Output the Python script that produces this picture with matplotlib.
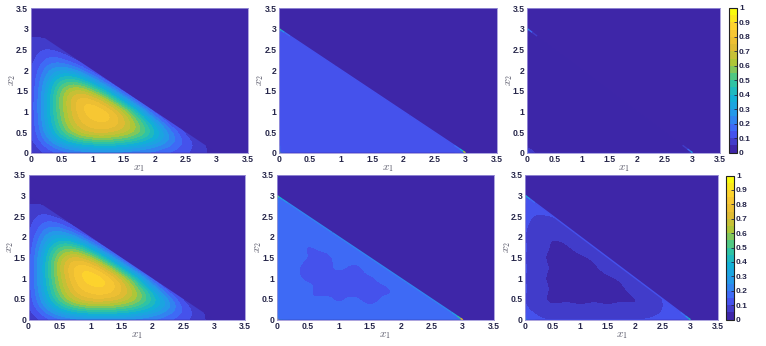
import numpy as np
import matplotlib
matplotlib.use("Agg")
import matplotlib.pyplot as plt
from matplotlib.colors import LinearSegmentedColormap, Normalize
from matplotlib.collections import LineCollection
from matplotlib.patches import Polygon

plt.rcParams['font.family'] = ['Liberation Sans', 'DejaVu Sans']
plt.rcParams['mathtext.fontset'] = 'cm'

# grid nodes of the tables (x1 across, x2 up), simplex size
grid = [0, .25, .5, .75, 1, 1.25, 1.5, 1.75, 2, 2.25, 2.5, 2.75, 3]
total = 3.0
ticks = [0, .5, 1, 1.5, 2, 2.5, 3, 3.5]
cbar_ticks = [0, .1, .2, .3, .4, .5, .6, .7, .8, .9, 1]

top_left = [
    [.04, .10, .15, .18, .20, .21, .20, .18, .16, .13, .10, .07, .02],
    [.07, .20, .35, .44, .48, .49, .46, .41, .33, .24, .14, .07],
    [.08, .29, .51, .67, .75, .74, .69, .59, .43, .24, .08],
    [.08, .33, .57, .75, .80, .82, .74, .56, .32, .08],
    [.08, .35, .59, .78, .85, .84, .68, .40, .08],
    [.08, .35, .61, .80, .82, .66, .38, .08],
    [.08, .33, .59, .72, .60, .36, .08],
    [.08, .29, .49, .48, .31, .08],
    [.08, .24, .31, .25, .08],
    [.07, .17, .17, .07],
    [.07, .11, .07],
    [.06, .06],
    [.02],
]
top_mid = [
    [.12, .11, .11, .11, .11, .11, .11, .11, .11, .11, .11, .12, .13],
    [.12, .11, .11, .11, .11, .10, .11, .11, .11, .11, .11, .11],
    [.12, .11, .11, .11, .11, .11, .11, .11, .11, .11, .11],
    [.12, .11, .11, .11, .11, .11, .11, .11, .11, .11],
    [.12, .11, .11, .11, .11, .11, .11, .11, .11],
    [.12, .11, .11, .11, .11, .11, .11, .11],
    [.12, .11, .11, .11, .11, .11, .11],
    [.12, .11, .11, .11, .11, .11],
    [.12, .11, .11, .11, .11],
    [.12, .11, .11, .11],
    [.12, .11, .11],
    [.13, .12],
    [.14],
]
top_right = [
    [.07, .04, .04, .03, .03, .03, .03, .03, .04, .04, .04, .04, .04],
    [.04, .03, .03, .03, .03, .03, .03, .03, .03, .03, .03, .04],
    [.03, .03, .03, .03, .03, .03, .03, .03, .03, .03, .03],
    [.03, .03, .03, .03, .03, .03, .03, .03, .03, .03],
    [.03, .03, .03, .03, .03, .03, .03, .03, .03],
    [.03, .03, .03, .03, .03, .03, .03, .03],
    [.03, .03, .03, .03, .03, .03, .03],
    [.03, .03, .03, .03, .03, .03],
    [.03, .03, .03, .03, .03],
    [.03, .03, .03, .03],
    [.03, .03, .03],
    [.04, .04],
    [.04],
]
bottom_left = [
    [.04, .11, .16, .20, .22, .23, .22, .20, .18, .14, .11, .07, .02],
    [.08, .23, .39, .48, .52, .52, .50, .45, .37, .27, .15, .07],
    [.09, .32, .55, .71, .78, .77, .72, .62, .47, .27, .08],
    [.09, .37, .61, .79, .84, .86, .78, .60, .35, .08],
    [.09, .39, .64, .83, .90, .88, .72, .44, .08],
    [.09, .40, .67, .85, .87, .71, .42, .08],
    [.09, .38, .65, .77, .65, .40, .08],
    [.09, .33, .54, .53, .35, .08],
    [.08, .27, .36, .28, .08],
    [.07, .20, .20, .07],
    [.07, .13, .07],
    [.06, .06],
    [.02],
]
bottom_mid = [
    [.19, .18, .18, .18, .18, .18, .18, .18, .18, .18, .18, .19, .20],
    [.19, .18, .18, .17, .16, .17, .16, .17, .18, .18, .18, .19],
    [.19, .18, .13, .17, .13, .17, .12, .17, .13, .18, .18],
    [.19, .18, .17, .12, .17, .12, .16, .13, .17, .18],
    [.19, .17, .13, .17, .12, .17, .13, .17, .18],
    [.19, .17, .12, .13, .17, .12, .17, .18],
    [.19, .17, .16, .12, .17, .17, .18],
    [.19, .17, .13, .17, .17, .18],
    [.19, .18, .17, .18, .18],
    [.19, .18, .18, .18],
    [.19, .18, .18],
    [.19, .19],
    [.20],
]
bottom_right = [
    [.14, .11, .11, .11, .11, .11, .11, .11, .11, .11, .11, .12, .14],
    [.11, .08, .05, .08, .05, .08, .05, .08, .05, .08, .10, .12],
    [.11, .05, .04, .04, .04, .04, .04, .04, .04, .06, .11],
    [.11, .08, .04, .03, .03, .03, .03, .04, .07, .11],
    [.11, .05, .04, .03, .03, .03, .04, .05, .11],
    [.11, .08, .04, .03, .03, .04, .07, .11],
    [.11, .05, .04, .03, .04, .05, .11],
    [.11, .08, .04, .04, .07, .11],
    [.11, .05, .05, .06, .11],
    [.11, .08, .06, .11],
    [.11, .09, .11],
    [.12, .12],
    [.14],
]

# values along the three simplex edges, at fractions edge_pos of each edge
edge_pos = [0, .012, .03, .06, .3, .7, .94, .97, .988, 1]
top_mid_hyp = [.55, .35, .2, .13, .12, .12, .13, .2, .5, .75]
top_mid_left = [.7, .4, .25, .16, .13, .13, .15, .2, .3, .5]
top_mid_bottom = [.7, .35, .2, .15, .13, .13, .15, .2, .35, .75]
top_right_hyp = [.3, .2, .12, .05, .04, .04, .05, .14, .25, .4]
top_right_left = [.3, .15, .08, .04, .04, .04, .04, .06, .1, .2]
top_right_bottom = [.3, .18, .1, .08, .07, .07, .08, .1, .15, .3]
bottom_mid_hyp = [.6, .45, .3, .22, .2, .2, .22, .35, .6, .85]
bottom_mid_left = [.8, .5, .33, .24, .22, .22, .24, .3, .4, .6]
bottom_mid_bottom = [.8, .5, .33, .24, .22, .22, .24, .35, .55, .85]
bottom_right_hyp = [.4, .3, .2, .14, .13, .13, .14, .22, .35, .45]
bottom_right_left = [.45, .3, .2, .13, .12, .12, .13, .18, .25, .4]
bottom_right_bottom = [.45, .3, .2, .14, .12, .12, .14, .2, .3, .45]

# approximate MATLAB parula, 20 levels
parula_colors = [(.2422, .1504, .6603), (.2780, .3556, .9777), (.1540, .5902, .9218),
                 (.0689, .6948, .8394), (.2161, .7843, .5923), (.6720, .7793, .2227),
                 (.9, .73, .2), (.9956, .80, .2), (.9763, .9831, .0538)]
parula = LinearSegmentedColormap.from_list("parula", parula_colors, N=20)
norm = Normalize(0, 1)


def expand(tri, fade):
    return np.array([list(r) + [0 if fade else r[-1]] * (len(grid) - len(r)) for r in tri])


def panel(rect, tri, edges=None, fade=False):
    W, H = 766, 346
    l, r, t, b = rect
    ax = fig.add_axes([l / W, 1 - b / H, (r - l) / W, (b - t) / H])
    ax.set_facecolor(parula(0))
    step = grid[1] - grid[0]
    im = ax.imshow(expand(tri, fade), origin='lower', cmap=parula, norm=norm, aspect='auto',
                   extent=(grid[0] - step / 2, grid[-1] + step / 2,
                           grid[0] - step / 2, grid[-1] + step / 2),
                   interpolation='bicubic', interpolation_stage='data')
    tri_patch = Polygon([(0, 0), (total, 0), (0, total)], transform=ax.transData,
                        fc='none', ec='none')
    ax.add_patch(tri_patch)
    im.set_clip_path(tri_patch)
    if edges is not None:
        ends = [((0, total), (total, 0)), ((0, 0), (0, total)), ((0, 0), (total, 0))]
        for vals, (p, q) in zip(edges, ends):
            pts = np.array([[p[0] + f * (q[0] - p[0]), p[1] + f * (q[1] - p[1])]
                            for f in edge_pos])
            segs = np.stack([pts[:-1], pts[1:]], axis=1)
            mids = (np.array(vals[:-1]) + np.array(vals[1:])) / 2
            lc = LineCollection(segs, cmap=parula, norm=norm, linewidths=1.0,
                                capstyle='butt', clip_on=True)
            lc.set_array(mids)
            ax.add_collection(lc)
    ax.set_xlim(0, 3.5)
    ax.set_ylim(0, 3.5)
    ax.set_xticks(ticks)
    ax.set_yticks(ticks)
    ax.set_xticklabels([f'{v:g}' for v in ticks])
    ax.set_yticklabels([f'{v:g}' for v in ticks])
    ax.tick_params(length=0, pad=1.8, labelsize=6.2, colors='#26264a')
    for lab in ax.get_xticklabels() + ax.get_yticklabels():
        lab.set_fontweight('bold')
    for s in ax.spines.values():
        s.set_color('#9d94d8')
        s.set_linewidth(0.6)
    ax.set_xlabel(r'$x_1$', fontsize=8, color='#555566', labelpad=-0.8)
    ax.set_ylabel(r'$x_2$', fontsize=8, color='#555566', labelpad=-1.5)
    return im


def cbar(rect, im):
    W, H = 766, 346
    l, r, t, b = rect
    cax = fig.add_axes([l / W, 1 - b / H, (r - l) / W, (b - t) / H])
    cb = fig.colorbar(im, cax=cax, ticks=cbar_ticks)
    cb.ax.set_yticklabels([f'{v:g}' for v in cbar_ticks])
    cb.ax.tick_params(direction='in', length=2, width=.6, pad=1.5, labelsize=6,
                      colors='#26264a')
    for lab in cb.ax.get_yticklabels():
        lab.set_fontweight('bold')
    cb.outline.set_linewidth(.8)
    cb.outline.set_edgecolor('#222222')


fig = plt.figure(figsize=(7.66, 3.46), dpi=100)
panel((30.7, 247.7, 8, 152.7), top_left, fade=True)
panel((279, 496.5, 8, 152.7), top_mid, edges=[top_mid_hyp, top_mid_left, top_mid_bottom])
im3 = panel((527.3, 720, 8, 152.7), top_right,
            edges=[top_right_hyp, top_right_left, top_right_bottom])
panel((28.5, 245.3, 174.7, 319.7), bottom_left, fade=True)
panel((276.7, 493.7, 174.7, 319.7), bottom_mid,
      edges=[bottom_mid_hyp, bottom_mid_left, bottom_mid_bottom])
im6 = panel((525.3, 718, 174.7, 319.7), bottom_right,
            edges=[bottom_right_hyp, bottom_right_left, bottom_right_bottom])
cbar((728.7, 737, 8, 152.5), im3)
cbar((725.7, 734, 175.5, 319.5), im6)
fig.savefig('out.png', dpi=100)
